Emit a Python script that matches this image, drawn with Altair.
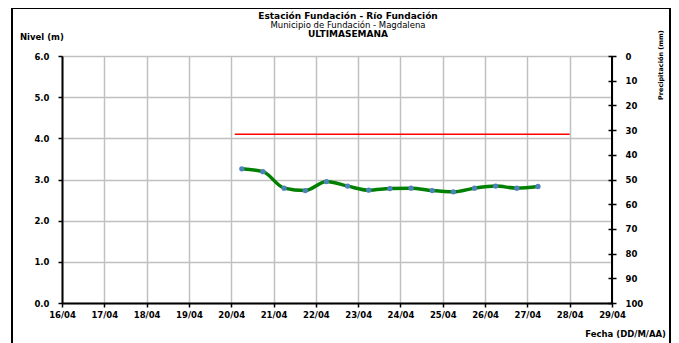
import altair as alt
import pandas as pd

# ---- data ----
times = [
    "2024-04-20T06:00", "2024-04-20T18:00", "2024-04-21T06:00", "2024-04-21T18:00",
    "2024-04-22T06:00", "2024-04-22T18:00", "2024-04-23T06:00", "2024-04-23T18:00",
    "2024-04-24T06:00", "2024-04-24T18:00", "2024-04-25T06:00", "2024-04-25T18:00",
    "2024-04-26T06:00", "2024-04-26T18:00", "2024-04-27T06:00",
]
levels = [3.26, 3.19, 2.79, 2.73, 2.95, 2.84, 2.74, 2.78, 2.79, 2.73, 2.70, 2.79, 2.84, 2.79, 2.83]

threshold_start = "2024-04-20T02:00"
threshold_end = "2024-04-28T00:00"
threshold_level = 4.1

axis_days = [f"2024-04-{d:02d}T00:00" for d in range(16, 30)]
level_ticks = [0, 1, 2, 3, 4, 5, 6]
precip_ticks = [0, 10, 20, 30, 40, 50, 60, 70, 80, 90, 100]

title_lines = ["Estación Fundación - Río Fundación", "Municipio de Fundación - Magdalena", "ULTIMASEMANA"]


def ms(s):
    return int(pd.Timestamp(s, tz="UTC").value // 10**6)


day_ms = [ms(d) for d in axis_days]
df = pd.DataFrame({"t": [ms(t) for t in times], "nivel": levels})
thr = pd.DataFrame({"t": [ms(threshold_start)], "t2": [ms(threshold_end)], "nivel": [threshold_level]})
end_df = pd.DataFrame({"t": [day_ms[-1]]})
precip_df = pd.DataFrame({"t": [day_ms[0]], "precip": [0]})
one = pd.DataFrame({"k": [0]})

FONT = "DejaVu Sans"
W, H = 550, 247

x_scale = alt.Scale(type="utc", domain=[day_ms[0], day_ms[-1]], nice=False)
x_axis = alt.Axis(
    values=day_ms, labelExpr="utcFormat(datum.value, '%d/%m')", title=None,
    grid=True, gridColor="#c0c0c0", gridWidth=1.5,
    domainColor="black", domainWidth=2, tickColor="black", tickWidth=1.5, tickSize=4,
    labelFont=FONT, labelFontWeight="bold", labelFontSize=8.5, labelColor="black",
    labelPadding=3, labelFlush=False, labelOverlap=False,
)
y_scale = alt.Scale(domain=[0, 6], nice=False)
y_axis = alt.Axis(
    values=level_ticks, format=".1f", title=None,
    grid=True, gridColor="#c0c0c0", gridWidth=1.5,
    domainColor="black", domainWidth=2, tickColor="black", tickWidth=1.5, tickSize=4,
    labelFont=FONT, labelFontWeight="bold", labelFontSize=8.5, labelColor="black",
    labelPadding=9, labelFlush=False, labelOverlap=False,
)

X = alt.X("t:T", scale=x_scale, axis=x_axis)
Y = alt.Y("nivel:Q", scale=y_scale, axis=y_axis)

threshold = alt.Chart(thr).mark_rule(color="#ff0000", strokeWidth=1.5).encode(
    x=X, x2="t2:T", y=Y
)
line = alt.Chart(df).mark_line(interpolate="monotone", color="#008000", strokeWidth=3.5).encode(x=X, y=Y)
points = alt.Chart(df).mark_circle(size=28, color="#4f81bd", opacity=1).encode(x=X, y=Y)

level_layers = alt.layer(threshold, line, points)

right_axis = alt.Chart(precip_df).mark_point(opacity=0).encode(
    x=X,
    y=alt.Y(
        "precip:Q",
        scale=alt.Scale(domain=[0, 100], reverse=True, nice=False),
        axis=alt.Axis(
            orient="right", values=precip_ticks, title=None, grid=False,
            domain=False, offset=-4, tickSize=8, tickColor="black", tickWidth=1.5,
            labelFont=FONT, labelFontWeight="bold", labelFontSize=8.5, labelColor="black",
            labelPadding=9, labelFlush=False, labelOverlap=False,
        ),
    ),
)
right_domain = alt.Chart(end_df).mark_rule(color="black", strokeWidth=2).encode(x=X)

frame = alt.Chart(one).mark_rect(fill=None, stroke="black", strokeWidth=2).encode(
    x=alt.value(-50), x2=alt.value(608), y=alt.value(-48), y2=alt.value(300)
)


def label(text, x, y, size=9, weight="bold", align="center", angle=0):
    return alt.Chart(one).mark_text(
        text=text, font=FONT, fontSize=size, fontWeight=weight, align=align,
        baseline="middle", angle=angle, color="black",
    ).encode(x=alt.value(x), y=alt.value(y))


texts = [
    label(title_lines[0], 286, -40, size=9, weight="bold"),
    label(title_lines[1], 286, -31, size=8.5, weight="normal"),
    label(title_lines[2], 286, -22, size=9, weight="bold"),
    label("Nivel (m)", -42, -19, size=8.5, align="left"),
    label("Fecha (DD/M/AA)", 604, 278, size=8.5, align="right"),
    label("Precipitación (mm)", 599, 44, size=6.5, align="left", angle=270),
]

chart = alt.layer(
    level_layers, right_axis, right_domain, frame, *texts
).resolve_scale(y="independent").properties(
    width=W, height=H,
    autosize=alt.AutoSizeParams(type="none"),
    padding={"left": 54, "top": 48, "right": 59, "bottom": 40},
).configure_view(stroke=None).configure(background="white")

chart.save("out.html", embed_options={"renderer": "svg", "actions": False})
